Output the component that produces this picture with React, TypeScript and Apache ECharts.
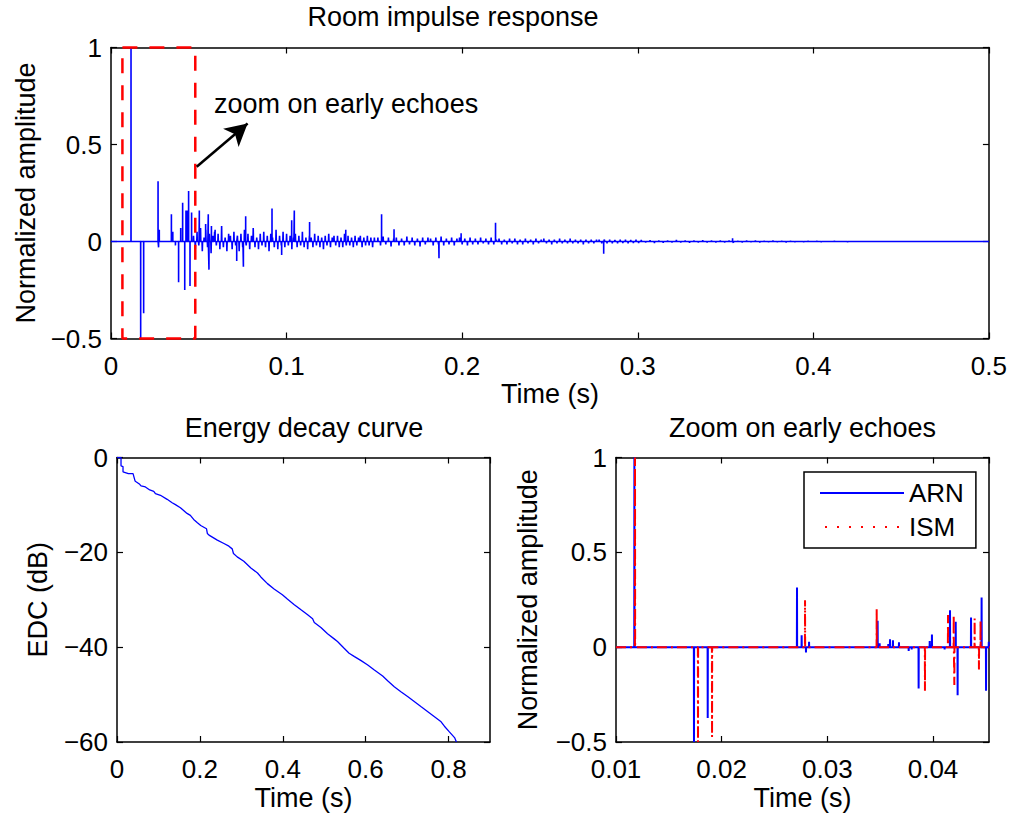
import React, { useEffect, useRef } from "react";
import * as echarts from "echarts";

const FONT = "'Liberation Sans', Arial, Helvetica, sans-serif";
const FS = 26; // tick labels
const LFS = 27; // titles, axis names, annotation

// ---------- Room impulse response (top) ----------
const rirSpikeTimes = [
  0.0114, 0.0169, 0.0186, 0.0268, 0.0271, 0.0275, 0.0344, 0.0352, 0.0367, 0.0385,
  0.0397, 0.0408, 0.042, 0.0427, 0.0435, 0.0442, 0.045, 0.0459, 0.0503, 0.0539,
  0.0554, 0.0558, 0.0572, 0.0593, 0.0716, 0.0754, 0.0767, 0.0917, 0.0972, 0.1029,
  0.1044, 0.1131, 0.1337, 0.1541, 0.1612, 0.1868, 0.1994, 0.219, 0.2806, 0.354,
];
const rirSpikeAmps = [
  1, -0.5, -0.37, 0.31, -0.03, 0.06, 0.14, 0.05, -0.02, -0.21,
  0.07, 0.2, -0.25, 0.16, 0.16, 0.26, -0.23, 0.15, 0.16, 0.09,
  0.14, -0.145, 0.08, 0.06, -0.1, -0.13, 0.13, 0.17, -0.07, 0.11,
  0.16, 0.1, 0.06, 0.14, 0.063, -0.086, 0.043, 0.096, -0.063, 0.017,
];
// dense reverberation tail, read as sampled values
const rirTailA = [
  0.03, -0.04, 0.05, -0.02, 0.07, -0.05, 0.02, 0.06, -0.03, 0.04, -0.06, 0.03, 0.05,
  -0.02, 0.04, -0.04, 0.08, -0.03, 0.02, -0.05, 0.04, 0.03, -0.04, 0.05, -0.02, 0.03,
  -0.05, 0.04, -0.03, 0.06, -0.02, 0.04, -0.04, 0.03, 0.07, -0.03, 0.02, -0.04, 0.04,
  -0.02, 0.05, -0.03, 0.03, -0.05, 0.04, 0.02, -0.03, 0.06, -0.04, 0.03, -0.02, 0.05,
  -0.03, 0.04, -0.02, 0.03, -0.04, 0.02, 0.04, -0.03, 0.03, -0.02, 0.05, -0.03, 0.02,
  -0.04, 0.03, 0.02, -0.03, 0.04, -0.02, 0.03, -0.03, 0.02, -0.04, 0.03, -0.02, 0.04,
  -0.03, 0.02, 0.03, -0.02, 0.03, -0.03, 0.02, -0.03, 0.04, -0.02, 0.03, -0.02, 0.02,
  -0.03, 0.03, -0.02, 0.02, 0.03, -0.03, 0.02, -0.02, 0.03, -0.02, 0.02, -0.03, 0.02,
];
const rirTailB = [
  0.02, -0.02, 0.025, -0.015, 0.02, -0.025, 0.015, 0.02, -0.02, 0.015,
  -0.02, 0.025, -0.015, 0.02, -0.02, 0.015, -0.025, 0.02, -0.015, 0.02,
  0.015, -0.02, 0.02, -0.015, 0.025, -0.02, 0.015, -0.015, 0.02, -0.02,
  0.015, 0.02, -0.015, 0.015, -0.02, 0.02, -0.015, 0.015, -0.015, 0.02,
  -0.01, 0.015, -0.015, 0.02, -0.015, 0.01, 0.015, -0.015, 0.01, -0.015,
  0.015, -0.01, 0.015, -0.015, 0.01, -0.015, 0.015, -0.01, 0.01, -0.015,
  0.015, -0.01, 0.01, 0.015, -0.01, 0.01, -0.015, 0.01, -0.01, 0.015,
  -0.01, 0.01, -0.01, 0.015, -0.01, 0.01, -0.01, 0.01, -0.015, 0.01,
  -0.01, 0.01, -0.01, 0.01, 0.01, -0.01, 0.01, -0.01, 0.01, -0.01,
  0.008, -0.01, 0.01, -0.008, 0.01, -0.01, 0.008, -0.008, 0.01, -0.008,
];
const rirTailC = [
  0.008, -0.006, 0.007, -0.008, 0.005, -0.007, 0.006, -0.005, 0.008, -0.006,
  0.005, -0.007, 0.006, -0.005, 0.007, -0.006, 0.005, -0.005, 0.006, -0.005,
  0.005, -0.006, 0.004, -0.005, 0.005, -0.004, 0.005, -0.005, 0.004, -0.004,
  0.005, -0.004, 0.004, -0.005, 0.004, -0.004, 0.003, -0.004, 0.004, -0.003,
  0.004, -0.004, 0.003, -0.003, 0.004, -0.003, 0.003, -0.004, 0.003, -0.003,
  0.003, -0.003, 0.003, -0.003, 0.002, -0.003, 0.003, -0.002, 0.003, -0.002,
  0.002, -0.003, 0.002, -0.002, 0.002, -0.002, 0.002, -0.002, 0.002, -0.002,
  0.002, -0.002, 0.001, -0.002, 0.002, -0.001, 0.001, -0.001, 0.001, 0,
];
const rirTailSegments = [
  { start: 0.047, step: 0.001, values: rirTailA },
  { start: 0.152, step: 0.0015, values: rirTailB },
  { start: 0.302, step: 0.0025, values: rirTailC },
];
// zoom box and arrow annotation (data coordinates)
const zoomBoxX = [0.0065, 0.048];
const zoomBoxY = [-0.5, 1];
const arrowFrom = [0.0488, 0.385];
const arrowTo = [0.0778, 0.608];

// ---------- Energy decay curve ----------
const edcTime = [
  0, 0.0097, 0.0097, 0.0145, 0.0145, 0.0274, 0.0387, 0.0435, 0.0468, 0.0548,
  0.058, 0.0685, 0.079, 0.0887, 0.0927, 0.1048, 0.121, 0.133, 0.141, 0.153,
  0.169, 0.177, 0.185, 0.194, 0.202, 0.216, 0.218, 0.222, 0.242, 0.258,
  0.27, 0.278, 0.281, 0.29, 0.306, 0.323, 0.339, 0.347, 0.363, 0.379,
  0.399, 0.411, 0.427, 0.444, 0.46, 0.472, 0.476, 0.492, 0.508, 0.524,
  0.532, 0.548, 0.56, 0.573, 0.589, 0.605, 0.621, 0.641, 0.653, 0.669,
  0.685, 0.702, 0.718, 0.734, 0.75, 0.766, 0.782, 0.79, 0.802, 0.815, 0.819,
];
const edcDb = [
  0, 0, -1.76, -1.9, -3.03, -3.39, -3.39, -4.94, -5.15, -5.65,
  -6.0, -6.21, -6.85, -7.13, -7.62, -7.97, -8.82, -9.53, -9.95, -10.59,
  -11.79, -12.21, -13.06, -13.76, -14.33, -15.03, -16.02, -16.37, -17.43, -18.14,
  -18.7, -19.27, -20.25, -20.96, -21.88, -23.29, -24.35, -25.19, -26.6, -27.73,
  -28.93, -29.85, -30.98, -32.11, -33.17, -34.02, -34.79, -35.85, -37.19, -38.25,
  -38.81, -40.23, -41.29, -42.0, -42.84, -43.75, -44.81, -46.08, -47.07, -48.34,
  -49.4, -50.46, -51.52, -52.58, -53.63, -54.69, -55.75, -56.67, -57.87, -59.14, -60,
];

// ---------- Zoom on early echoes ----------
const arnTimes = [
  0.01174, 0.01738, 0.01868, 0.02713, 0.02757, 0.02798, 0.02827, 0.03476, 0.03495, 0.03577,
  0.03593, 0.03621, 0.03678, 0.0377, 0.03798, 0.03864, 0.03969, 0.0399, 0.0411, 0.04161,
  0.04215, 0.04233, 0.0436, 0.0446, 0.04502, 0.04528,
];
const arnAmps = [
  1, -0.5, -0.373, 0.315, 0.063, -0.028, 0.028, 0.139, 0.02, 0.016,
  0.042, 0.037, 0.026, -0.02, -0.012, -0.218, 0.033, 0.067, -0.012, 0.195,
  0.134, -0.253, 0.156, 0.262, -0.23, 0.028,
];
const ismTimes = [
  0.0118, 0.01776, 0.01909, 0.02789, 0.03467, 0.03924, 0.04142, 0.04196, 0.04202, 0.04394,
  0.04435, 0.0445,
];
const ismAmps = [
  1, -0.5, -0.473, 0.248, 0.2, -0.23, 0.169, 0.169, -0.2, 0.151,
  -0.118, 0.139,
];
const seriesNames = ["ARN", "ISM"];

// ---------- helpers ----------
const fmt = (v: number) => String(Math.round(v * 1e6) / 1e6).replace("-", "\u2212");

function spikePoints(times: number[], amps: number[], eps: number): number[][] {
  const pts: number[][] = [];
  times.forEach((t, i) => {
    pts.push([t - eps, 0], [t, amps[i]], [t + eps, 0]);
  });
  return pts;
}

function buildRir(): number[][] {
  const pts: number[][] = [[0, 0]];
  pts.push(...spikePoints(rirSpikeTimes, rirSpikeAmps, 0.00002));
  rirTailSegments.forEach((seg) => {
    const ts = seg.values.map((_, i) => seg.start + i * seg.step);
    pts.push(...spikePoints(ts, seg.values, 0.00015));
  });
  pts.push([0.5, 0]);
  pts.sort((a, b) => a[0] - b[0]);
  return pts;
}

function buildZoom(times: number[], amps: number[]): number[][] {
  return [[0.01, 0], ...spikePoints(times, amps, 0.000012), [0.0454, 0]];
}

const black = "#000";

function mkAxis(extra: any, mirror: boolean) {
  return {
    type: "value",
    splitLine: { show: false },
    axisLine: { show: true, onZero: false, lineStyle: { color: black, width: 1.5 } },
    axisTick: { show: true, inside: true, length: 6, lineStyle: { color: black, width: 1.2 } },
    axisLabel: mirror
      ? { show: false }
      : { show: true, color: black, fontFamily: FONT, fontSize: FS, formatter: fmt },
    nameTextStyle: { color: black, fontFamily: FONT, fontSize: LFS },
    ...extra,
  };
}

const grids = [
  { left: 111, top: 47.5, width: 878, height: 291 },
  { left: 117, top: 457.5, width: 373, height: 284.5 },
  { left: 616, top: 457.5, width: 373, height: 284.5 },
];

const dotIcon =
  "path://M0 0h2v2H0z M12 0h2v2h-2z M24 0h2v2h-2z M36 0h2v2h-2z M48 0h2v2h-2z M60 0h2v2h-2z M72 0h2v2h-2z";

export default function App() {
  const ref = useRef<HTMLDivElement>(null);
  useEffect(() => {
    if (!ref.current) return;
    const chart = echarts.init(ref.current, undefined, { renderer: "svg" });

    const xRanges = [
      { min: 0, max: 0.5, interval: 0.1 },
      { min: 0, max: 0.9, interval: 0.2 },
      { min: 0.01, max: 0.0453, interval: 0.01 },
    ];
    const yRanges = [
      { min: -0.5, max: 1, interval: 0.5 },
      { min: -60, max: 0, interval: 20 },
      { min: -0.5, max: 1, interval: 0.5 },
    ];
    const yNames = ["Normalized amplitude", "EDC (dB)", "Normalized amplitude"];
    const yGaps = [72, 66, 75];

    const xAxis: any[] = [];
    const yAxis: any[] = [];
    for (let g = 0; g < 3; g++) {
      xAxis.push(
        mkAxis(
          {
            gridIndex: g,
            position: "bottom",
            ...xRanges[g],
            name: "Time (s)",
            nameLocation: "middle",
            nameGap: 42,
            axisLabel: {
              show: true,
              color: black,
              fontFamily: FONT,
              fontSize: FS,
              formatter: fmt,
              margin: 14,
              showMaxLabel: g === 0,
            },
          },
          false
        )
      );
      xAxis.push(mkAxis({ gridIndex: g, position: "top", ...xRanges[g] }, true));
      yAxis.push(
        mkAxis(
          {
            gridIndex: g,
            position: "left",
            ...yRanges[g],
            name: yNames[g],
            nameLocation: "middle",
            nameGap: yGaps[g],
            axisLabel: {
              show: true,
              color: black,
              fontFamily: FONT,
              fontSize: FS,
              formatter: fmt,
              margin: 9,
            },
          },
          false
        )
      );
      yAxis.push(mkAxis({ gridIndex: g, position: "right", ...yRanges[g] }, true));
    }

    const boxPts = [
      [zoomBoxX[0], zoomBoxY[1]],
      [zoomBoxX[1], zoomBoxY[1]],
      [zoomBoxX[1], zoomBoxY[0]],
      [zoomBoxX[0], zoomBoxY[0]],
      [zoomBoxX[0], zoomBoxY[1]],
    ];

    const titles = [
      { text: "Room impulse response", x: 453, y: 17 },
      { text: "Energy decay curve", x: 304, y: 428 },
      { text: "Zoom on early echoes", x: 802.5, y: 428 },
    ];

    const option: any = {
      animation: false,
      backgroundColor: "#fff",
      grid: grids,
      xAxis,
      yAxis,
      legend: {
        show: true,
        orient: "vertical",
        left: 804,
        top: 472,
        padding: [8, 12, 8, 16],
        itemGap: 8,
        itemWidth: 84,
        itemHeight: 2,
        borderColor: black,
        borderWidth: 1.5,
        backgroundColor: "#fff",
        selectedMode: false,
        textStyle: { fontFamily: FONT, fontSize: FS, color: black },
        data: [
          { name: seriesNames[0], icon: "rect" },
          { name: seriesNames[1], icon: dotIcon },
        ],
      },
      graphic: [
        ...titles.map((t) => ({
          type: "text",
          x: t.x,
          y: t.y,
          style: {
            text: t.text,
            font: `${LFS}px ${FONT}`,
            fill: black,
            textAlign: "center",
            textVerticalAlign: "middle",
          },
        })),
        {
          type: "text",
          x: 214,
          y: 104,
          style: {
            text: "zoom on early echoes",
            font: `${LFS}px ${FONT}`,
            fill: black,
            textAlign: "left",
            textVerticalAlign: "middle",
          },
        },
      ],
      series: [
        {
          type: "line",
          xAxisIndex: 0,
          yAxisIndex: 0,
          data: buildRir(),
          symbol: "none",
          lineStyle: { color: "#0000ff", width: 1.6 },
          z: 3,
        },
        {
          type: "line",
          xAxisIndex: 0,
          yAxisIndex: 0,
          data: boxPts,
          symbol: "none",
          clip: false,
          lineStyle: { color: "#ff0000", width: 2.5, type: [15, 12] },
          z: 4,
          markLine: {
            silent: true,
            symbol: ["none", "arrow"],
            symbolSize: [18, 22],
            label: { show: false },
            lineStyle: { color: black, width: 2.5, type: "solid" },
            data: [[{ coord: arrowFrom }, { coord: arrowTo }]],
          },
        },
        {
          type: "line",
          xAxisIndex: 2,
          yAxisIndex: 2,
          data: edcTime.map((t, i) => [t, edcDb[i]]),
          symbol: "none",
          lineStyle: { color: "#0000ff", width: 1.3 },
        },
        {
          name: seriesNames[0],
          type: "line",
          xAxisIndex: 4,
          yAxisIndex: 4,
          data: buildZoom(arnTimes, arnAmps),
          symbol: "none",
          lineStyle: { color: "#0000ff", width: 2 },
          itemStyle: { color: "#0000ff" },
        },
        {
          name: seriesNames[1],
          type: "line",
          xAxisIndex: 4,
          yAxisIndex: 4,
          data: buildZoom(ismTimes, ismAmps),
          symbol: "none",
          lineStyle: { color: "#ff0000", width: 2, type: [10, 4, 2, 4] },
          itemStyle: { color: "#ff0000" },
        },
      ],
    };
    chart.setOption(option);
    return () => chart.dispose();
  }, []);

  return (
    <div
      ref={ref}
      style={{ position: "absolute", left: 0, top: 0, width: 1010, height: 818, background: "#fff" }}
    />
  );
}
